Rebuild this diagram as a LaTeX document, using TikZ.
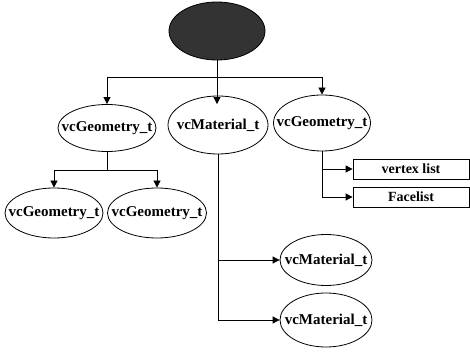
\documentclass[tikz,border=0pt]{standalone}
\usepackage{fontspec}
\setmainfont{Liberation Serif}
\usetikzlibrary{arrows.meta,shapes.geometric}
\begin{document}
\begin{tikzpicture}[x=1pt,y=-1pt,
  oval/.style={draw,ellipse,line width=0.8pt,inner sep=0pt,label={[font=\bfseries\fontsize{15}{17}\selectfont]center:#1}},
  listbox/.style={draw,rectangle,line width=0.8pt,inner sep=0pt,font=\bfseries\fontsize{14}{16}\selectfont},
  conn/.style={line width=0.8pt},
  arr/.style={line width=0.8pt,-{Triangle[length=7pt,width=7pt]}}]
\useasboundingbox (0,0) rectangle (470,352);
\node[draw,ellipse,line width=0.8pt,inner sep=0pt,fill=black!80,minimum width=96pt,minimum height=58pt] (root) at (217,31) {};
\node[oval=vcGeometry\_t,minimum width=98pt,minimum height=47pt] (g1) at (107,128) {};
\node[oval=vcMaterial\_t,minimum width=100pt,minimum height=58pt] (m1) at (218,125) {};
\node[oval=vcGeometry\_t,minimum width=97pt,minimum height=56pt] (g2) at (322,123) {};
\node[oval=vcGeometry\_t,minimum width=98pt,minimum height=50pt] (g3) at (54,213) {};
\node[oval=vcGeometry\_t,minimum width=99pt,minimum height=50pt] (g4) at (157,213) {};
\node[listbox,minimum width=116pt,minimum height=20pt] (vl) at (411,169) {vertex list};
\node[listbox,minimum width=116pt,minimum height=20pt] (fl) at (411,197) {Facelist};
\node[oval=vcMaterial\_t,minimum width=92pt,minimum height=51pt] (m2) at (326,260) {};
\node[oval=vcMaterial\_t,minimum width=92pt,minimum height=54pt] (m3) at (326,320) {};
\coordinate (bar) at (217,77);
\coordinate (bar1) at (107,170);
\draw[conn] (root.south) -- (bar);
\draw[arr] (bar) -- (root.south |- g1.north);
\draw[arr] (bar) -| (g1.north);
\draw[arr] (bar) -| (g2.north);
\draw[conn] (g1.south) -- (bar1);
\draw[arr] (bar1) -| (g3.north);
\draw[arr] (bar1) -| (g4.north);
\draw[arr] (g2.south) |- (vl.west);
\draw[arr] (g2.south) |- (fl.west);
\draw[arr] (m1.south) |- (m2.west);
\draw[arr] (m1.south) |- (m3.west);
\end{tikzpicture}
\end{document}
